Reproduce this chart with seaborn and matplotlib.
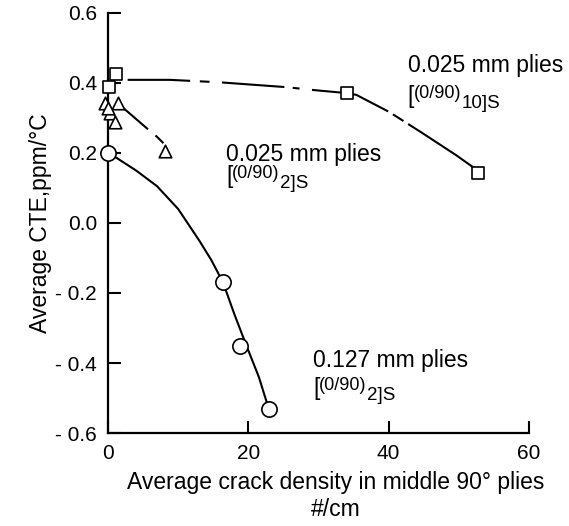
import matplotlib
matplotlib.use("Agg")
import matplotlib.pyplot as plt
import seaborn as sns

# measured points (crack density #/cm, CTE ppm/C)
circle_x = [0.0, 16.4, 18.8, 22.9]
circle_y = [0.20, -0.17, -0.35, -0.53]

square_x = [0.1, 1.1, 34.1, 52.8]
square_y = [0.389, 0.426, 0.371, 0.143]

tri_x = [-0.4, 1.4, 0.3, 1.0, 0.0, 8.1]
tri_y = [0.343, 0.343, 0.314, 0.289, 0.329, 0.206]

# hand-drawn trend curves
circle_curve_x = [0.0, 1.3, 4.0, 7.0, 10.0, 13.0, 14.7, 16.4, 18.0, 19.8, 21.5, 22.9]
circle_curve_y = [0.20, 0.185, 0.15, 0.105, 0.04, -0.05, -0.105, -0.17, -0.26, -0.354, -0.44, -0.53]

square_curve_x = [2.8, 8.8, 15.9, 20.0, 25.5, 29.2, 34.1, 35.4, 40.1, 44.8, 49.6, 52.2, 52.8]
square_curve_y = [0.409, 0.409, 0.402, 0.396, 0.388, 0.380, 0.371, 0.366, 0.317, 0.257, 0.194, 0.157, 0.143]

tri_curve_x = [2.1, 5.8, 7.0, 7.9]
tri_curve_y = [0.33, 0.266, 0.246, 0.228]

y_ticks = [0.6, 0.4, 0.2, 0.0, -0.2, -0.4, -0.6]
y_tick_labels = ["0.6", "0.4", "0.2", "0.0", "- 0.2", "- 0.4", "- 0.6"]
x_ticks = [0, 20, 40, 60]

# (x, y of first line baseline, y of second line baseline, thickness, layup count)
labels = [
    (42.7, 0.431, 0.343, "0.025 mm plies", "10"),
    (16.8, 0.177, 0.114, "0.025 mm plies", "2"),
    (29.2, -0.411, -0.491, "0.127 mm plies", "2"),
]

sns.set_style("ticks")
plt.rcParams['font.family'] = ['Liberation Sans', 'DejaVu Sans']
plt.rcParams['lines.scale_dashes'] = False
for key in ['text.color', 'axes.labelcolor', 'xtick.color', 'ytick.color', 'axes.edgecolor']:
    plt.rcParams[key] = 'black'

fig = plt.figure(figsize=(5.69, 5.26), dpi=100)
ax = fig.add_axes([0.1898, 0.1768, 0.7399, 0.7985])

lw = 1.5
sns.lineplot(x=circle_curve_x, y=circle_curve_y, ax=ax, color='black', lw=lw,
             estimator=None, sort=False)
sns.lineplot(x=square_curve_x, y=square_curve_y, ax=ax, color='black', lw=lw,
             estimator=None, sort=False,
             linestyle=(0, (45, 7, 7, 9, 45, 6, 5, 9, 58, 4, 9, 4, 200)))
sns.lineplot(x=tri_curve_x, y=tri_curve_y, ax=ax, color='black', lw=lw,
             estimator=None, sort=False, linestyle=(0, (24, 7, 60)))

mk = dict(color='white', edgecolor='black', linewidth=1.2, clip_on=False, zorder=5)
sns.scatterplot(x=circle_x, y=circle_y, ax=ax, marker='o', s=11 ** 2, **mk)
sns.scatterplot(x=square_x, y=square_y, ax=ax, marker='s', s=8.5 ** 2, **mk)
sns.scatterplot(x=tri_x, y=tri_y, ax=ax, marker='^', s=9 ** 2, **mk)

ax.set_xlim(0, 60)
ax.set_ylim(-0.6, 0.6)
ax.set_xticks(x_ticks)
ax.set_yticks(y_ticks)
ax.set_yticklabels(y_tick_labels)
ax.tick_params(direction='in', length=9, width=1.5, labelsize=15, pad=8)
for side in ['top', 'right']:
    ax.spines[side].set_visible(False)
for side in ['left', 'bottom']:
    ax.spines[side].set_linewidth(1.6)

fs = 16.5
ax.set_ylabel("Average CTE,ppm/\u00b0C", fontsize=fs)
ax.yaxis.set_label_coords(-0.133, 0.5)
ax.set_xlabel("Average crack density in middle 90\u00b0 plies\n#/cm", fontsize=fs,
              linespacing=1.25)
ax.xaxis.set_label_coords(0.542, -0.09)

# annotations: "[" big, "(0/90)" small top-aligned, "n]S" small dropped
for x, y1, y2, line1, n in labels:
    ax.text(x, y1, line1, fontsize=fs, va='baseline')
    br = ax.text(x, y2, "[", fontsize=fs, va='baseline')
    grp = ax.annotate("(0/90)", xy=(1, 1), xycoords=br, fontsize=13,
                      ha='left', va='top')
    ax.annotate(n + "]S", xy=(1, 0), xycoords=(grp, br), fontsize=13.5,
                ha='left', va='baseline')

fig.savefig("out.png", dpi=100)
